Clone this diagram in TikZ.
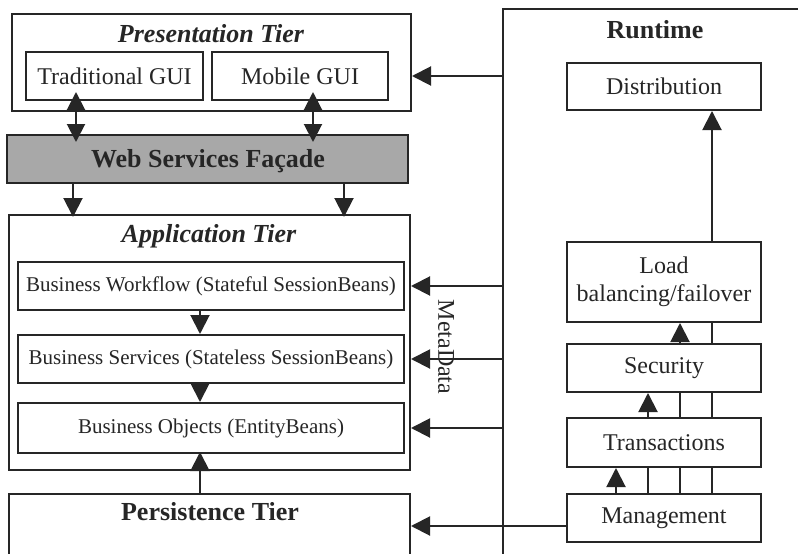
\documentclass[tikz,border=0pt]{standalone}
\usepackage{fontspec}
\setmainfont{Liberation Serif}
\usetikzlibrary{arrows.meta,backgrounds}
\definecolor{ink}{HTML}{262626}
\definecolor{facadegray}{HTML}{A8A8A8}

\begin{document}
\begin{tikzpicture}[x=1pt,y=-1pt,
  box/.style={draw=ink, line width=2pt, inner sep=0pt, text=ink, align=center},
  lbl/.style={font=\fontsize{24}{28}\selectfont},
  biz/.style={font=\fontsize{21}{25}\selectfont},
  tier/.style={font=\fontsize{26}{30}\selectfont\bfseries\itshape, text=ink, inner sep=0pt},
  head/.style={font=\fontsize{26}{30}\selectfont\bfseries, text=ink, inner sep=0pt},
  link/.style={draw=ink, line width=2pt, -{Triangle[length=19pt,width=19pt]}},
  both/.style={draw=ink, line width=2pt, {Triangle[length=18pt,width=18pt]}-{Triangle[length=18pt,width=18pt]},
               shorten <=-9pt, shorten >=-8pt},
  plain/.style={draw=ink, line width=2pt}]

\useasboundingbox (0,0) rectangle (798,554);
\clip (0,0) rectangle (798,554);

% ---------- left column: tiers ----------
\node[box, minimum width=399pt, minimum height=97pt] (pres) at (211.5,62.5) {};
\node[tier, anchor=base] (prestitle) at (211,42) {Presentation Tier};
\node[box, lbl, minimum width=177pt, minimum height=48pt] (trad) at (114.5,76) {Traditional GUI};
\node[box, lbl, minimum width=176pt, minimum height=48pt] (mob) at (300,76) {Mobile GUI};

\node[box, fill=facadegray, minimum width=401pt, minimum height=48pt] (facade) at (207.5,159) {};
\node[head, anchor=base] (facadetitle) at (208,167) {Web Services Façade};

\node[box, minimum width=401pt, minimum height=255pt] (app) at (209.5,342.5) {};
\node[tier, anchor=base] (apptitle) at (209,242) {Application Tier};
\node[box, biz, minimum width=386pt, minimum height=48pt] (wf) at (211,286) {Business Workflow (Stateful SessionBeans)};
\node[box, biz, minimum width=386pt, minimum height=48pt] (svc) at (211,359) {Business Services (Stateless SessionBeans)};
\node[box, biz, minimum width=386pt, minimum height=50pt] (obj) at (211,428) {Business Objects (EntityBeans)};

\node[box, minimum width=401pt, minimum height=120pt] (pers) at (209.5,554) {};
\node[head, anchor=base] (perstitle) at (210,520) {Persistence Tier};

% ---------- right column: runtime services ----------
\node[box, minimum width=327pt, minimum height=590pt] (runtime) at (666.5,304) {};
\node[head, anchor=base] (runtimetitle) at (655,38) {Runtime};
\node[box, lbl, fill=white, minimum width=194pt, minimum height=47pt] (dist) at (664,86.5) {Distribution};
\node[box, lbl, fill=white, minimum width=194pt, minimum height=80pt] (lb) at (664,282) {Load\\balancing/failover};
\node[box, lbl, fill=white, minimum width=194pt, minimum height=48pt] (sec) at (664,368) {Security};
\node[box, lbl, fill=white, minimum width=194pt, minimum height=49pt] (tra) at (664,442.5) {Transactions};
\node[box, lbl, fill=white, minimum width=194pt, minimum height=48pt] (mgmt) at (664,518) {Management};

\node[lbl, text=ink, rotate=-90, inner sep=0pt] (meta) at (446,347) {MetaData};

% helper positions for connector lanes
\coordinate (xa) at (76,0);
\coordinate (xb) at (313,0);
\coordinate (xc) at (73,0);
\coordinate (xd) at (344,0);
\coordinate (xe) at (200,0);
\coordinate (ymp) at (0,526);
\coordinate (l1) at (616,0);
\coordinate (l2) at (648,0);
\coordinate (l3) at (680,0);
\coordinate (l4) at (712,0);

% presentation <-> facade
\draw[both] (trad.south -| xa) -- (facade.north -| xa);
\draw[both] (mob.south -| xb) -- (facade.north -| xb);
% facade -> application tier
\draw[link, shorten >=-3pt] (facade.south -| xc) -- (app.north -| xc);
\draw[link, shorten >=-3pt] (facade.south -| xd) -- (app.north -| xd);
% inside the application tier
\draw[link] (wf.south -| xe) -- (svc.north -| xe);
\draw[link] (svc.south -| xe) -- (obj.north -| xe);
\draw[link, shorten >=-2pt] (pers.north -| xe) -- (obj.south -| xe);

% runtime -> tiers
\draw[link] (runtime.west |- mob.east) -- (pres.east |- mob.east);
\draw[link] (runtime.west |- wf.east) -- (app.east |- wf.east);
\draw[link] (runtime.west |- svc.east) -- (app.east |- svc.east);
\draw[link] (runtime.west |- obj.east) -- (app.east |- obj.east);
\draw[link] (mgmt.west |- ymp) -- (pers.east |- ymp);

% management -> runtime services (lanes pass behind the boxes)
\begin{scope}[on background layer]
  \fill[white] (0,0) rectangle (798,554);
  \draw[link] (mgmt.north -| l1) -- (tra.south -| l1);
  \draw[link] (mgmt.north -| l2) -- (sec.south -| l2);
  \draw[link] (mgmt.north -| l3) -- (lb.south -| l3);
  \draw[link] (mgmt.north -| l4) -- (dist.south -| l4);
\end{scope}
\end{tikzpicture}
\end{document}
